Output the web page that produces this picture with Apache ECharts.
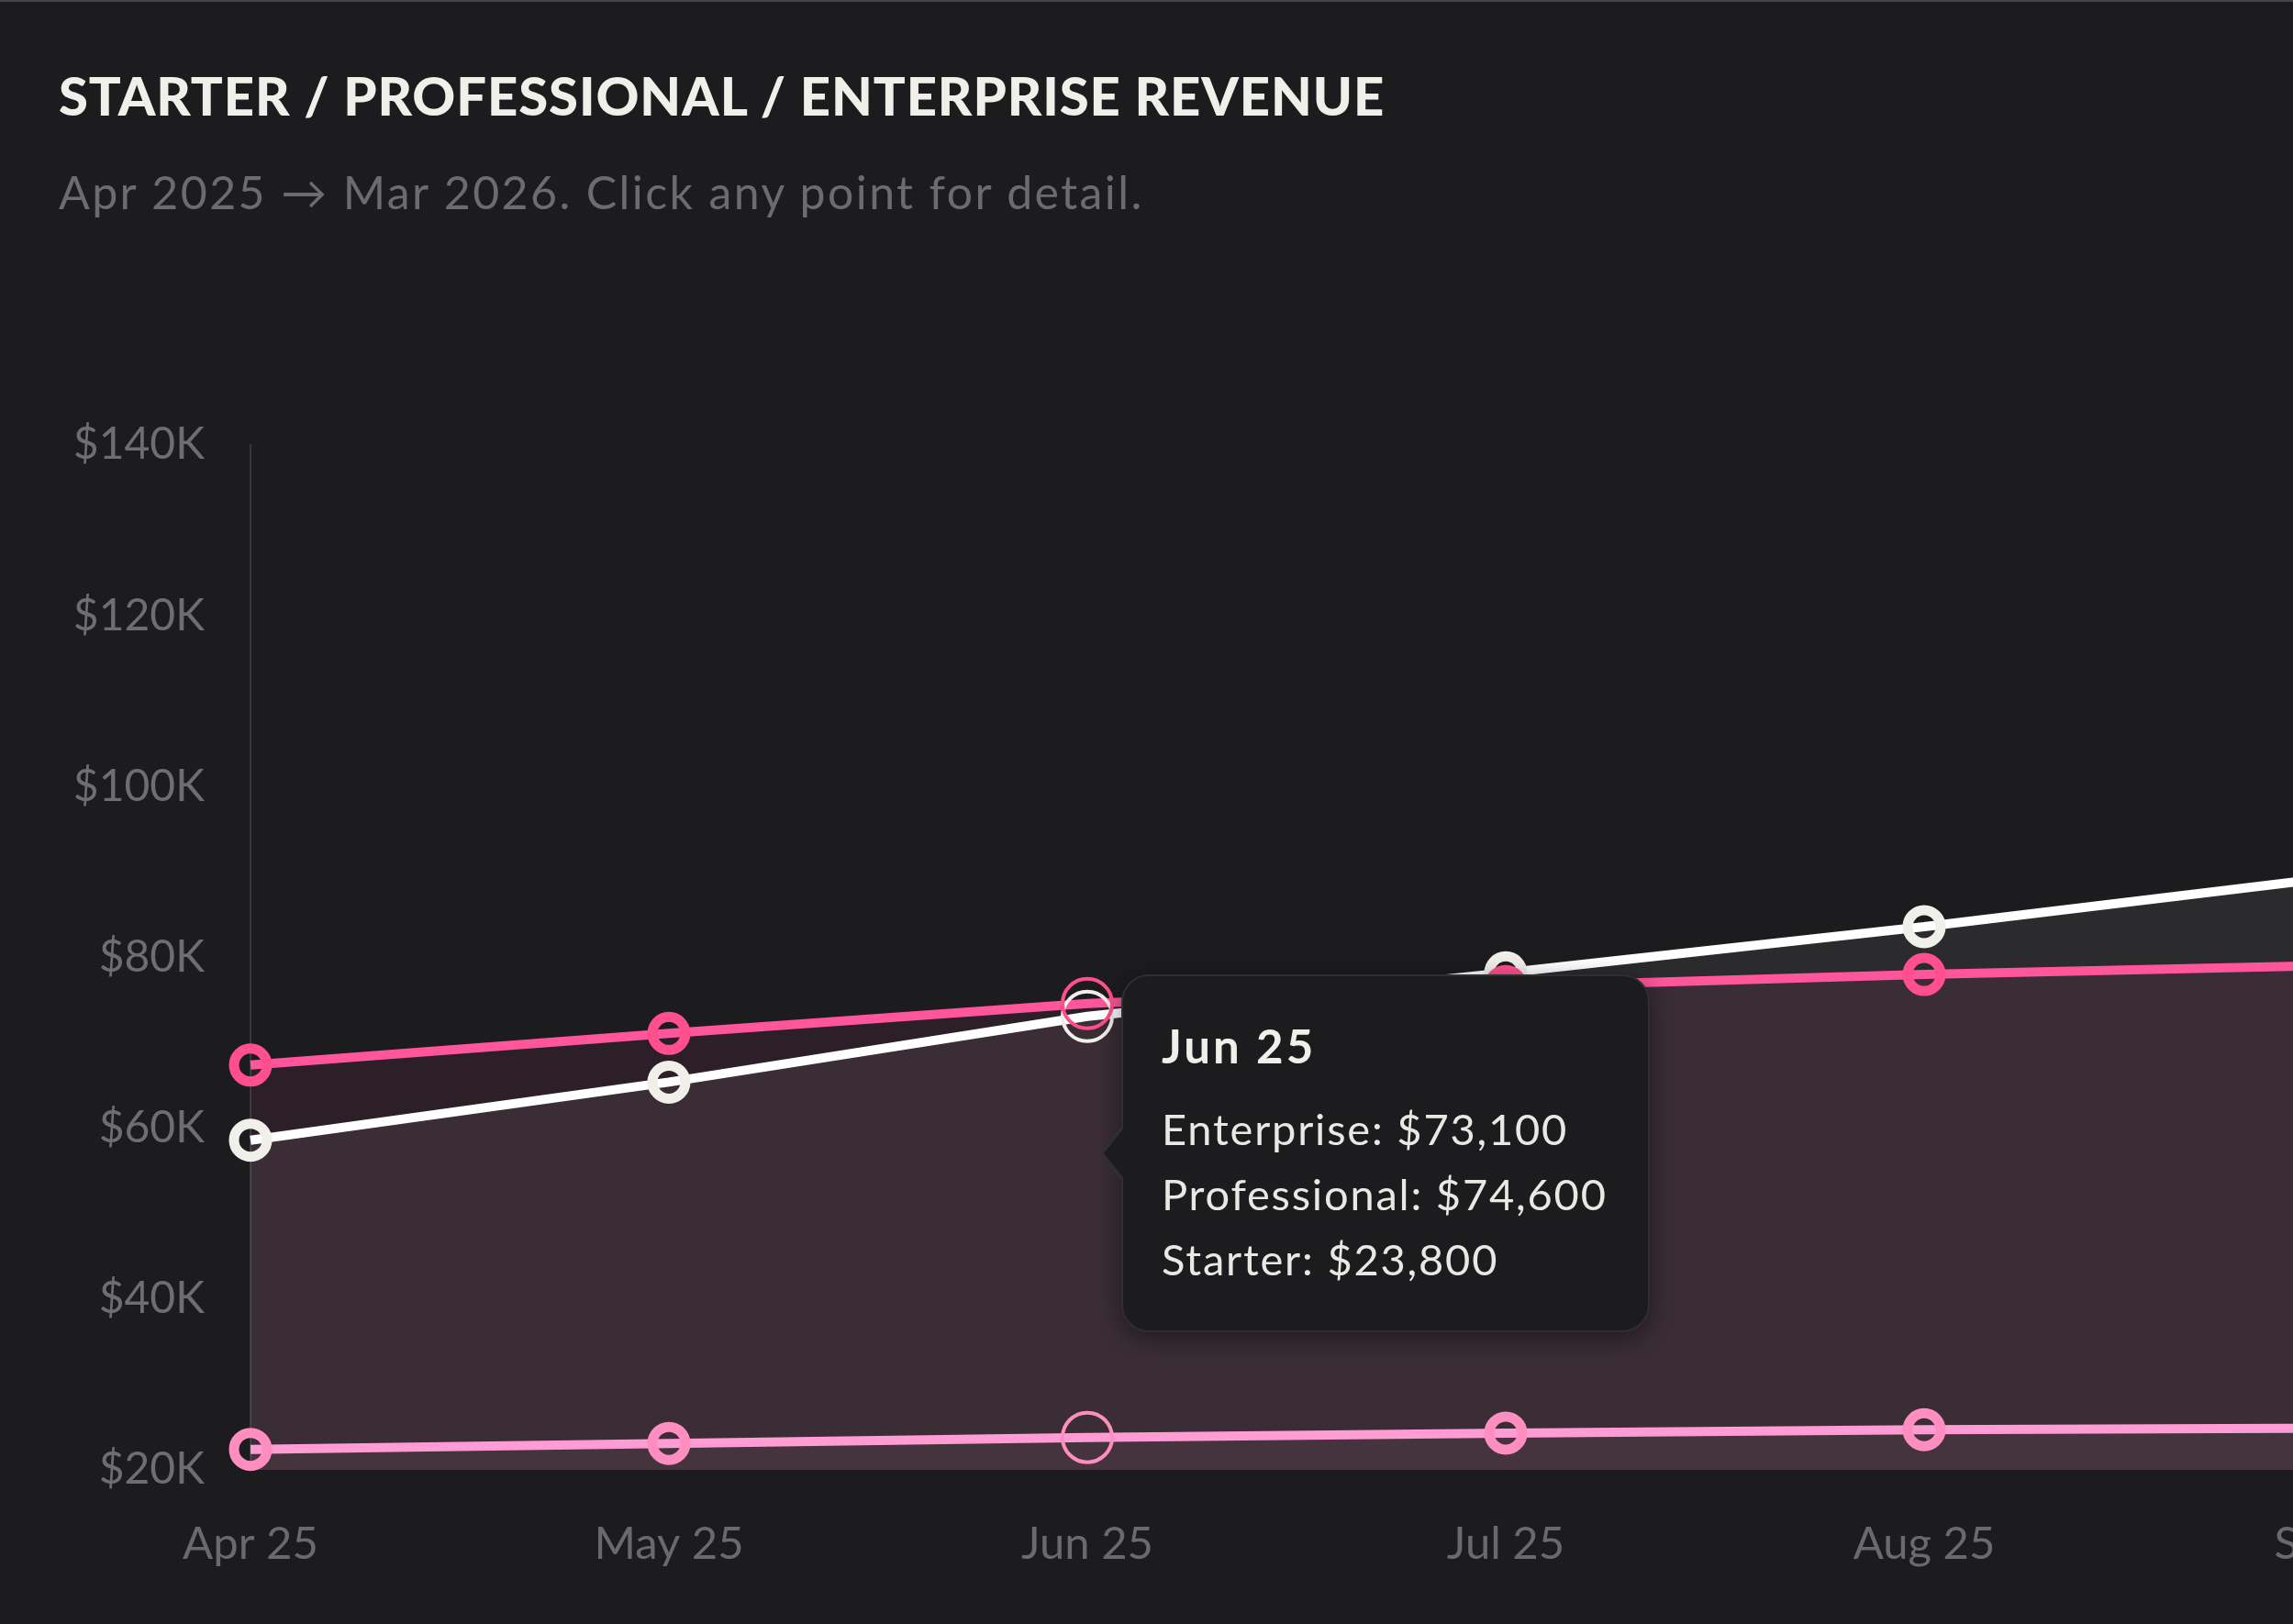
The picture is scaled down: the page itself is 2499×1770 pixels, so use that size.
<!DOCTYPE html>
<html>
<head>
<meta charset="utf-8">
<title>Starter / Professional / Enterprise revenue</title>
<script src="https://cdn.jsdelivr.net/npm/echarts@6/dist/echarts.min.js"></script>
<style>
  html, body { margin: 0; padding: 0; background: #1c1c1e; overflow: hidden; }
  #topline { position: absolute; top: 0; left: 0; width: 100%; height: 2px; background: #46464a; z-index: 5; }
  .head { position: absolute; left: 64px; z-index: 4; white-space: nowrap; font-family: Lato, "Noto Sans", sans-serif; }
  #title { top: 75px; font-size: 58px; line-height: 58px; font-weight: 900; letter-spacing: 0.9px; color: #f0efea; }
  #subtitle { top: 184px; font-size: 50px; line-height: 50px; font-weight: 400; letter-spacing: 2.4px; color: #6c6c6e; }
  /* chart is wider than the window, like a horizontally scrolling card */
  #chart { position: absolute; top: 0; left: 0; width: 5400px; height: 1770px; }
</style>
</head>
<body>
<div id="topline"></div>
<div id="chart"></div>
<div class="head" id="title">STARTER / PROFESSIONAL / ENTERPRISE REVENUE</div>
<div class="head" id="subtitle">Apr 2025 &rarr; Mar 2026. Click any point for detail.</div>
<script>
const FONT = 'Lato, "Noto Sans", sans-serif'

const months = ['Apr 25', 'May 25', 'Jun 25', 'Jul 25', 'Aug 25', 'Sep 25',
  'Oct 25', 'Nov 25', 'Dec 25', 'Jan 26', 'Feb 26', 'Mar 26']
const enterprise = [58600, 65400, 73100, 78200, 83600, 89500, 94800, 99700, 105300, 110200, 116400, 122100]
const professional = [67400, 71100, 74600, 76600, 78000, 79100, 80400, 81800, 83100, 84500, 85800, 87200]
const starter = [22400, 23100, 23800, 24300, 24700, 24900, 25300, 25600, 26000, 26300, 26700, 27000]
const yTicks = [20000, 40000, 60000, 80000, 100000, 120000, 140000]
const focusIndex = 2 // Jun 25, the point the tooltip is open on

const seriesDefs = [
  { name: 'Enterprise', data: enterprise, color: '#f0efea', area: 'rgba(240,239,234,0.066)' },
  { name: 'Professional', data: professional, color: '#ff4f8d', area: 'rgba(255,79,141,0.075)' },
  { name: 'Starter', data: starter, color: '#ff8ec0', area: 'rgba(255,142,192,0.06)' }
]

const money = v => '$' + v.toLocaleString('en-US')

const chart = echarts.init(document.getElementById('chart'))

function tipHtml(i) {
  let html = ''
  // little pointer on the left side of the box
  html += '<div style="position:absolute;left:-25px;top:50%;margin-top:-32px;width:25px;height:64px;' +
    'background:#2f2f33;clip-path:polygon(0 50%,100% 0,100% 100%)"></div>'
  html += '<div style="position:absolute;left:-21px;top:50%;margin-top:-29px;width:23px;height:58px;' +
    'background:#1c1c1e;clip-path:polygon(0 50%,100% 0,100% 100%)"></div>'
  html += '<div style="font-weight:700;font-size:51px;line-height:60px;letter-spacing:3px;margin-bottom:25px;color:#f0efea">' +
    months[i] + '</div>'
  seriesDefs.forEach(s => {
    html += '<div style="font-size:47px;line-height:71px;letter-spacing:1.8px;color:#e9e8e3">' +
      s.name + ': ' + money(s.data[i]) + '</div>'
  })
  return html
}

chart.setOption({
  backgroundColor: '#1c1c1e',
  animation: false,
  stateAnimation: { duration: 0 },
  grid: {
    left: 273,
    right: 111,
    top: 485,
    bottom: 168
  },
  tooltip: {
    trigger: 'item',
    triggerOn: 'none',
    alwaysShowContent: true,
    transitionDuration: 0,
    backgroundColor: '#1c1c1e',
    borderColor: '#2f2f33',
    borderWidth: 2,
    padding: [46, 44, 42, 42],
    textStyle: { fontFamily: FONT, color: '#e9e8e3' },
    extraCssText: 'border-radius:30px;box-shadow:0 6px 26px rgba(0,0,0,0.45);',
    position: function (point, params) {
      const p = chart.convertToPixel({ gridIndex: 0 }, [params.dataIndex, professional[params.dataIndex]])
      return [p[0] + 37, p[1] - 32]
    },
    formatter: function (params) {
      return tipHtml(params.dataIndex)
    }
  },
  xAxis: {
    type: 'category',
    data: months,
    boundaryGap: false,
    axisLine: { show: false },
    axisTick: { show: false },
    axisLabel: { fontFamily: FONT, fontSize: 49, color: '#6a6a6c', margin: 57 },
    splitLine: { show: false }
  },
  yAxis: {
    type: 'value',
    min: yTicks[0],
    max: yTicks[yTicks.length - 1],
    interval: yTicks[1] - yTicks[0],
    axisLine: { show: true, lineStyle: { color: '#38383b', width: 2 } },
    axisTick: { show: false },
    splitLine: { show: false },
    axisLabel: {
      fontFamily: FONT,
      fontSize: 48,
      color: '#6e6e70',
      margin: 50,
      padding: [6, 0, 0, 0],
      formatter: v => '$' + v / 1000 + 'K'
    }
  },
  series: seriesDefs.map(s => ({
    name: s.name,
    type: 'line',
    data: s.data,
    symbol: 'circle',
    symbolSize: 36,
    showAllSymbol: true,
    lineStyle: { color: s.color, width: 10 },
    itemStyle: { color: 'rgba(0,0,0,0)', borderColor: s.color, borderWidth: 11 },
    areaStyle: { color: s.area, opacity: 1 },
    emphasis: {
      scale: 1.5,
      itemStyle: { color: 'rgba(0,0,0,0)', borderColor: s.color, borderWidth: 4 }
    }
  }))
})

chart.dispatchAction({ type: 'showTip', seriesIndex: 1, dataIndex: focusIndex })
chart.dispatchAction({ type: 'highlight', seriesIndex: [0, 1, 2], dataIndex: focusIndex })
</script>
</body>
</html>
